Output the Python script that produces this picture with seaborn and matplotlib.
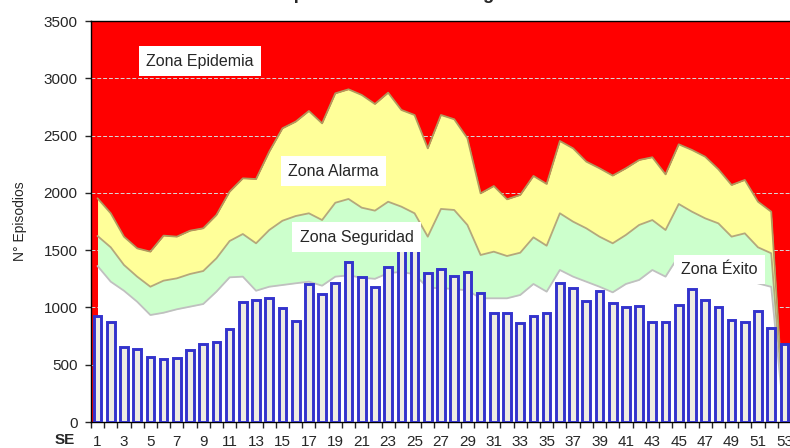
import matplotlib
matplotlib.use("Agg")
import matplotlib.pyplot as plt
import seaborn as sns
import numpy as np

# Datos por semana epidemiologica
semanas = list(range(1, 54))
episodios = [928, 870, 655, 634, 570, 550, 561, 626, 678, 701,
             812, 1045, 1068, 1085, 998, 879, 1202, 1115, 1211, 1400,
             1269, 1176, 1350, 1650, 1600, 1303, 1333, 1277, 1307, 1129,
             949, 949, 861, 928, 949, 1216, 1167, 1056, 1144, 1039,
             1004, 1010, 873, 873, 1021, 1158, 1068, 1001, 888, 873,
             966, 821, 681]
# limites de las zonas (borde superior de cada area)
lim_alarma = [1953, 1822, 1618, 1516, 1487, 1627, 1618, 1670, 1691, 1807,
              2011, 2127, 2121, 2360, 2564, 2622, 2715, 2607, 2869, 2904,
              2855, 2776, 2875, 2724, 2680, 2389, 2680, 2643, 2477, 1996,
              2060, 1944, 1982, 2148, 2078, 2453, 2389, 2273, 2215, 2151,
              2215, 2287, 2311, 2162, 2424, 2375, 2316, 2206, 2069, 2113,
              1923, 1836, 0]
lim_seguridad = [1624, 1525, 1371, 1269, 1181, 1234, 1254, 1292, 1318, 1429,
                 1580, 1641, 1560, 1676, 1757, 1798, 1822, 1763, 1914, 1947,
                 1871, 1845, 1923, 1880, 1822, 1618, 1860, 1851, 1720, 1458,
                 1487, 1449, 1478, 1612, 1539, 1822, 1749, 1691, 1618, 1560,
                 1633, 1720, 1763, 1676, 1903, 1836, 1778, 1734, 1618, 1647,
                 1525, 1473, 0]
lim_exito = [1362, 1225, 1146, 1050, 934, 954, 984, 1007, 1030, 1138,
             1263, 1269, 1146, 1181, 1196, 1211, 1225, 1190, 1269, 1280,
             1260, 1250, 1300, 1310, 1290, 1170, 1170, 1160, 1150, 1080,
             1080, 1080, 1109, 1205, 1138, 1327, 1269, 1225, 1181, 1132,
             1205, 1240, 1327, 1269, 1450, 1400, 1360, 1320, 1250, 1260,
             1210, 1180, 0]
etiquetas_x = [str(s) if s % 2 == 1 else "" for s in semanas]

sns.set_style("ticks")
plt.rcParams["font.family"] = ["Liberation Sans", "DejaVu Sans"]

fig = plt.figure(figsize=(7.9, 4.48), dpi=100)
ax = fig.add_axes([0.1151, 0.058, 0.8862, 0.895])
ax.set_facecolor("#FF0000")

pos = np.arange(len(semanas))
ax.fill_between(pos, 0, lim_alarma, color="#FFFF99", lw=0, zorder=1)
ax.plot(pos, lim_alarma, color="#B09A5E", lw=1.3, zorder=1.1)
ax.fill_between(pos, 0, lim_seguridad, color="#CCFFCC", lw=0, zorder=1.2)
ax.plot(pos, lim_seguridad, color="#B4A87C", lw=1.3, zorder=1.3)
ax.fill_between(pos, 0, lim_exito, color="#FFFFFF", lw=0, zorder=1.4)
ax.plot(pos, lim_exito, color="#C0C0C0", lw=1.3, zorder=1.5)

sns.barplot(x=pos, y=episodios, color="#EEECE1", edgecolor="#3333CC",
            linewidth=2.1, width=0.58, saturation=1, ax=ax, zorder=3)

ax.set_xlim(-0.5, len(semanas) - 0.5)
ax.set_ylim(0, 3500)
ax.set_yticks(range(0, 3501, 500))
ax.yaxis.grid(True, color="#D9D9D9", lw=0.7, ls=(0, (4, 2)))
ax.set_axisbelow(True)

ax.set_xticks(pos)
ax.set_xticklabels(etiquetas_x, fontsize=11)
ax.set_xticks(np.arange(-0.5, len(semanas)), minor=True)
ax.tick_params(axis="x", which="major", length=0, pad=9)
ax.tick_params(axis="x", which="minor", length=4, width=1, direction="out")
ax.tick_params(axis="y", labelsize=11, length=4.5, width=1, pad=5)
ax.set_xlabel("")
ax.set_ylabel("N° Episodios", fontsize=10, labelpad=12)
for s in ax.spines.values():
    s.set_color("black")
    s.set_linewidth(1)

caja = dict(boxstyle="square,pad=0.45", fc="white", ec="none")
ax.text(7.76, 3150, "Zona Epidemia", fontsize=11.5, ha="center", va="center", bbox=caja, zorder=5)
ax.text(17.83, 2190, "Zona Alarma", fontsize=11.5, ha="center", va="center", bbox=caja, zorder=5)
ax.text(19.6, 1615, "Zona Seguridad", fontsize=11.5, ha="center", va="center", bbox=caja, zorder=5)
ax.text(47.1, 1330, "Zona Éxito", fontsize=11.5, ha="center", va="center", bbox=caja, zorder=5)

fig.text(0.082, 0.018, "SE", fontsize=11, fontweight="bold", ha="center", va="center")
fig.text(0.401, 1.0 + 1.5 / 448, "Canal Endémico de Episodios de Diarrea Aguda",
         fontsize=13.3, fontweight="bold", ha="center", va="baseline")

fig.savefig("out.png", dpi=100)
